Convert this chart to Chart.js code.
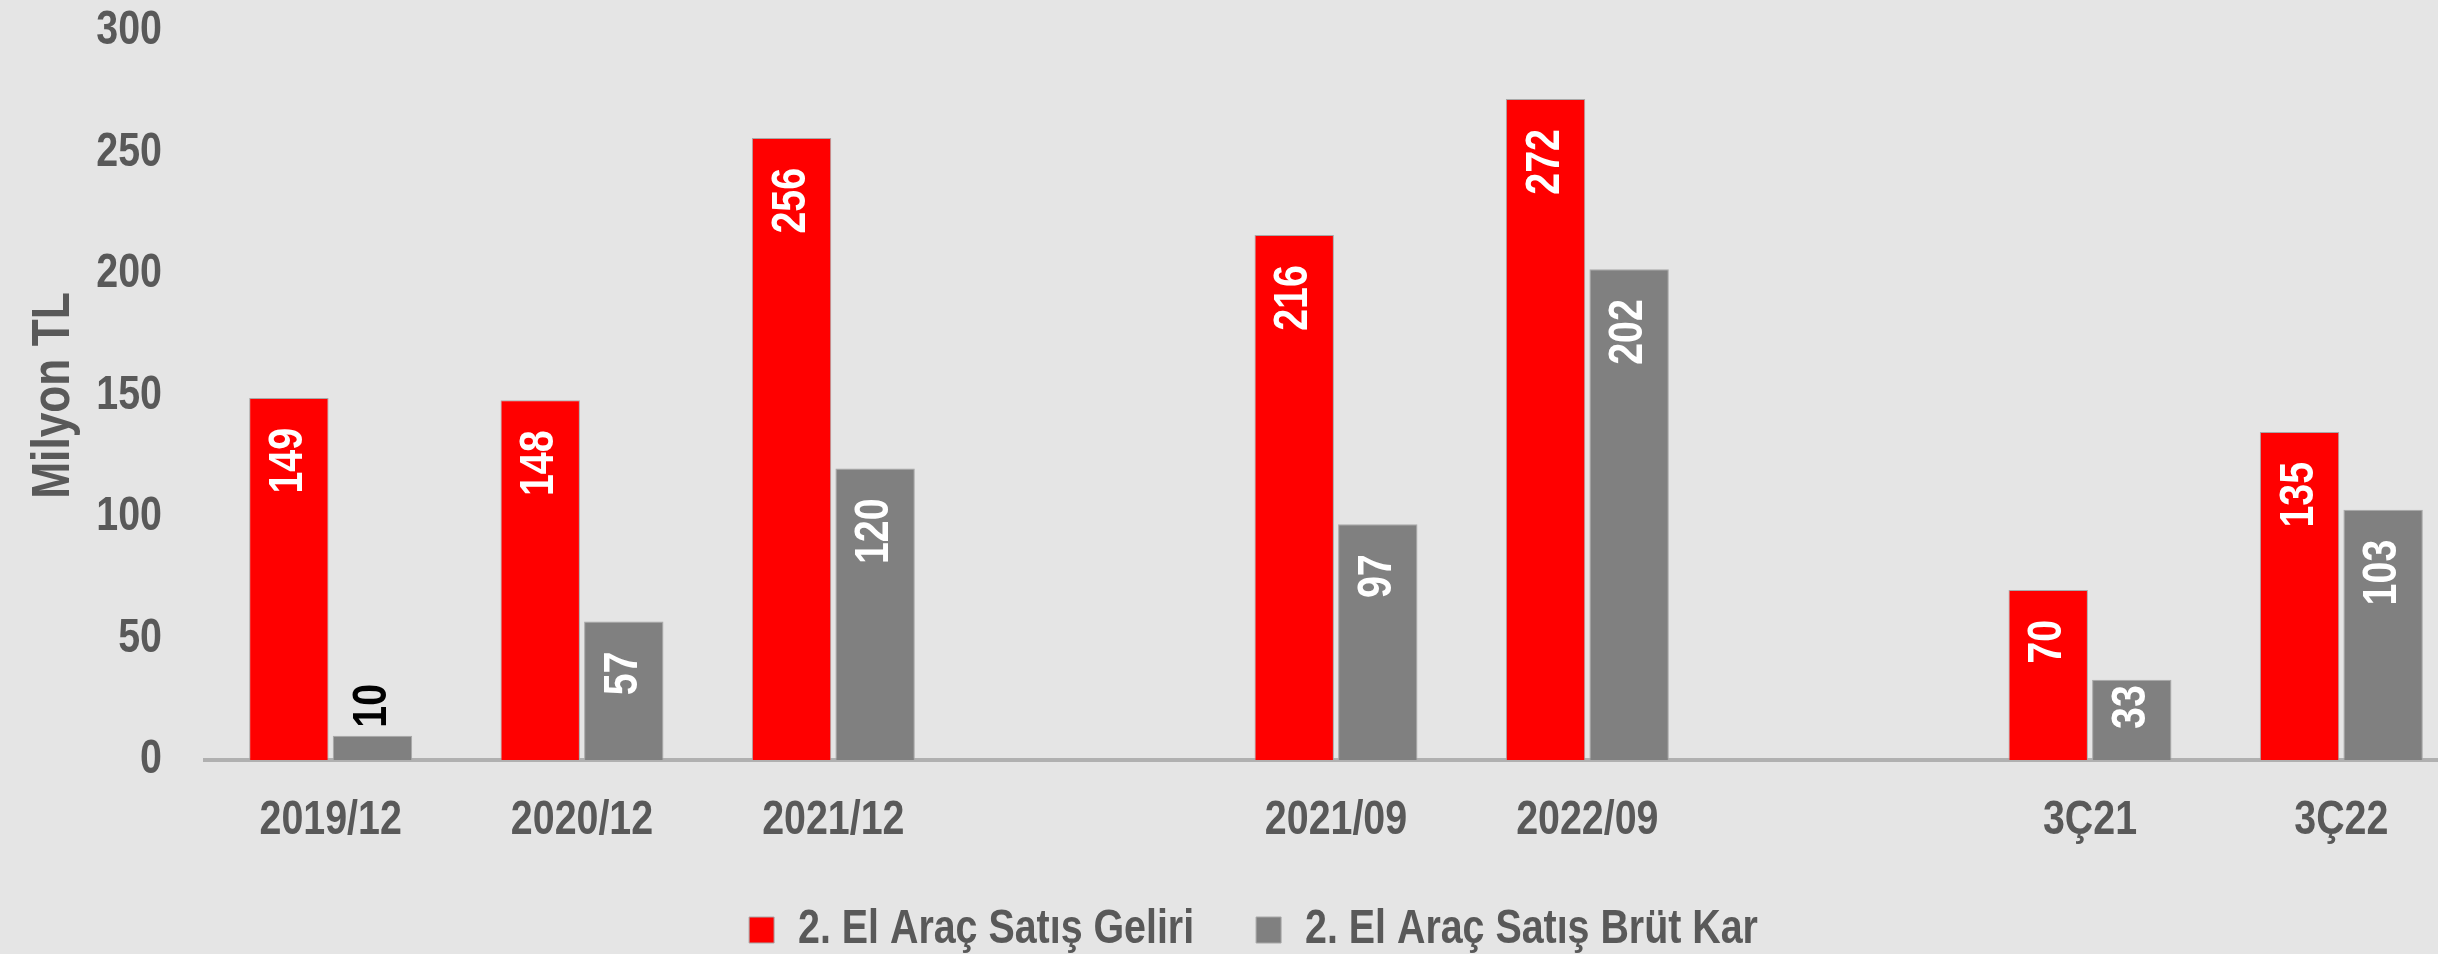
<!DOCTYPE html>
<html lang="tr">
<head>
    <meta charset="UTF-8">
    <title>2. El Araç Satış</title>
    <script src="https://cdn.jsdelivr.net/npm/chart.js"></script>
    <style>
        html, body { margin: 0; padding: 0; background: #e5e5e5; overflow: hidden; }
        .kutu { width: 2438px; height: 954px; overflow: hidden; }
        canvas { display: block; }
    </style>
</head>
<body>
    <div class="kutu"><canvas id="aracChart" width="2467" height="964"></canvas></div>

    <script>
        // Veriler (boş kategoriler gruplar arasındaki boşluk için)
        const kategoriler = ['2019/12', '2020/12', '2021/12', '', '2021/09', '2022/09', '', '3Ç21', '3Ç22'];
        const satisGeliri = [149, 148, 256, null, 216, 272, null, 70, 135];
        const brutKar = [10, 57, 120, null, 97, 202, null, 33, 103];
        const yMin = 0;
        const yMax = 300;
        const yAdim = 50;

        const yaziRengi = '#595959';
        const fontAdi = '"Liberation Sans", Arial, sans-serif';
        const legendPad = 62;
        const daraltma = 0.82; // Arial Narrow yok, yazıları yatayda daralt

        Chart.defaults.font.family = fontAdi;
        Chart.defaults.font.weight = 'bold';
        Chart.defaults.color = yaziRengi;

        const canvas = document.getElementById('aracChart');
        const ctx = canvas.getContext('2d');

        // Dar yazı için fillText / measureText sarmalayıcıları
        const asilFill = ctx.fillText.bind(ctx);
        const asilMeasure = ctx.measureText.bind(ctx);
        ctx.fillText = function (text, x, y, maxWidth) {
            ctx.save();
            ctx.translate(x, y);
            ctx.scale(daraltma, 1);
            if (maxWidth === undefined || maxWidth === null) {
                asilFill(text, 0, 0);
            } else {
                asilFill(text, 0, 0, maxWidth / daraltma);
            }
            ctx.restore();
        };
        ctx.measureText = function (text) {
            const m = asilMeasure(text);
            return {
                width: m.width * daraltma,
                actualBoundingBoxAscent: m.actualBoundingBoxAscent,
                actualBoundingBoxDescent: m.actualBoundingBoxDescent,
                actualBoundingBoxLeft: m.actualBoundingBoxLeft * daraltma,
                actualBoundingBoxRight: m.actualBoundingBoxRight * daraltma
            };
        };

        // Çubukların üzerine dikey değer etiketleri
        const degerEtiketleri = {
            id: 'degerEtiketleri',
            afterDatasetsDraw(chart) {
                const c = chart.ctx;
                c.save();
                c.font = 'bold 48px ' + fontAdi;
                c.textBaseline = 'middle';
                chart.data.datasets.forEach((ds, i) => {
                    chart.getDatasetMeta(i).data.forEach((bar, j) => {
                        const v = ds.data[j];
                        if (v == null) return;
                        const text = String(v);
                        const w = c.measureText(text).width;
                        const h = bar.base - bar.y;
                        const icerde = h > w + 20;
                        const ofset = icerde ? Math.max(4, Math.min(30, h - w - 31)) : 8;
                        c.save();
                        c.translate(bar.x, icerde ? bar.y + ofset : bar.y - ofset);
                        c.rotate(-Math.PI / 2);
                        c.textAlign = icerde ? 'right' : 'left';
                        c.fillStyle = icerde ? '#ffffff' : '#000000';
                        c.fillText(text, 0, 0);
                        c.restore();
                    });
                });
                c.restore();
            }
        };

        // Lejantı biraz sağa kaydır
        const lejantKaydir = {
            id: 'lejantKaydir',
            afterLayout(chart) {
                chart.legend.left += 20;
                chart.legend.right += 20;
            }
        };

        const aracChart = new Chart(ctx, {
            type: 'bar',
            data: {
                labels: kategoriler,
                datasets: [
                    {
                        label: '2. El Araç Satış Geliri',
                        data: satisGeliri,
                        backgroundColor: '#ff0000',
                        borderColor: '#a8a8a8',
                        borderWidth: 1,
                        categoryPercentage: 0.665,
                        barPercentage: 0.95
                    },
                    {
                        label: '2. El Araç Satış Brüt Kar',
                        data: brutKar,
                        backgroundColor: '#808080',
                        borderColor: '#a8a8a8',
                        borderWidth: 1,
                        categoryPercentage: 0.665,
                        barPercentage: 0.95
                    }
                ]
            },
            options: {
                responsive: false,
                animation: false,
                layout: { padding: { top: 31, left: 0, right: 0, bottom: 0 } },
                plugins: {
                    tooltip: { enabled: false },
                    legend: {
                        position: 'bottom',
                        labels: {
                            boxWidth: 25,
                            boxHeight: 26,
                            padding: legendPad,
                            color: yaziRengi,
                            font: { size: 48, weight: 'bold' }
                        }
                    }
                },
                scales: {
                    x: {
                        grid: { display: false },
                        border: { display: true, color: '#b0b0b0', width: 4 },
                        ticks: {
                            color: yaziRengi,
                            font: { size: 48, weight: 'bold' },
                            padding: 24,
                            maxRotation: 0,
                            autoSkip: false
                        },
                        afterFit(scale) {
                            scale.height = 146 - legendPad;
                            scale.paddingLeft = 0;
                            scale.paddingRight = 0;
                        }
                    },
                    y: {
                        min: yMin,
                        max: yMax,
                        grid: { display: false, drawTicks: false },
                        border: { display: false },
                        ticks: {
                            stepSize: yAdim,
                            color: yaziRengi,
                            font: { size: 48, weight: 'bold' },
                            padding: 43
                        },
                        title: {
                            display: true,
                            text: 'Milyon TL',
                            color: yaziRengi,
                            font: { size: 54, weight: 'bold' },
                            padding: { top: 22, bottom: 0 }
                        },
                        afterFit(scale) {
                            scale.width = 205;
                            scale.paddingTop = 0;
                            scale.paddingBottom = 0;
                        }
                    }
                }
            },
            plugins: [degerEtiketleri, lejantKaydir]
        });
    </script>
</body>
</html>
